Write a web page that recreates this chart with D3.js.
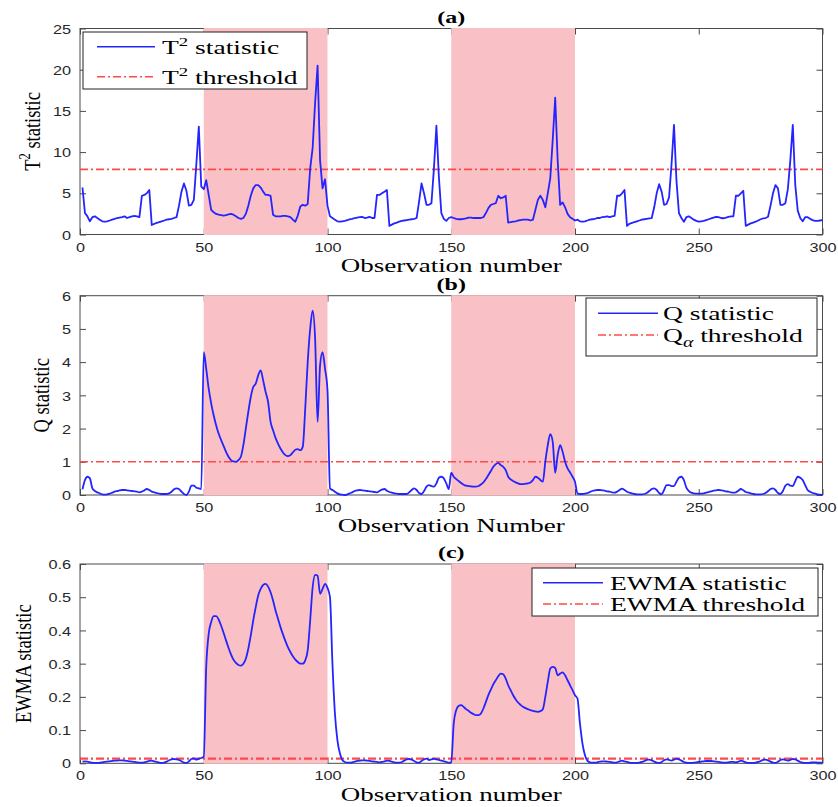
<!DOCTYPE html>
<html>
<head>
<meta charset="utf-8">
<script src="https://cdnjs.cloudflare.com/ajax/libs/d3/7.8.5/d3.min.js"></script>
<style>
  body { margin: 0; background: #fff; }
  svg { display: block; }
</style>
</head>
<body>
<div id="chart"></div>
<script>
// ---- data ----
const faultWindows = [[50, 100], [150, 200]];
const xTicks = [0, 50, 100, 150, 200, 250, 300];
const t2Ticks = [0, 5, 10, 15, 20, 25];
const qTicks = [0, 1, 2, 3, 4, 5, 6];
const ewmaTicks = [0, 0.1, 0.2, 0.3, 0.4, 0.5, 0.6];

const t2Threshold = 7.9;
const qThreshold = 1.0;
const ewmaThreshold = 0.014;

// T^2 statistic, observations 1..300
const t2Values = [
  5.7, 2.6, 2.2, 1.6, 2.1, 2.2, 2.0, 1.8, 1.6, 1.55,
  1.6, 1.7, 1.8, 1.9, 2.0, 2.05, 2.1, 2.2, 2.0, 2.1,
  2.2, 2.25, 2.2, 2.1, 4.7, 4.8, 5.0, 5.4, 1.15, 1.3,
  1.4, 1.5, 1.6, 1.7, 1.8, 1.85, 1.9, 2.0, 2.1, 3.5,
  5.2, 6.2, 5.3, 3.5, 3.6, 4.2, 8.5, 13.1, 5.8, 5.5,
  6.6, 4.8, 3.0, 2.7, 2.5, 2.4, 2.35, 2.3, 2.35, 2.45,
  2.5, 2.4, 2.2, 2.0, 1.9, 2.0, 2.5, 3.5, 4.7, 5.6,
  6.0, 6.0, 5.7, 5.2, 4.8, 4.8, 4.7, 2.4, 2.2, 2.2,
  2.2, 2.25, 2.25, 2.2, 2.1, 1.8, 1.55, 2.3, 3.4, 3.6,
  3.5, 3.7, 8.0, 10.5, 16.0, 20.5, 9.0, 5.6, 6.7, 3.5,
  2.2, 2.0, 1.8, 1.6, 1.55, 1.6, 1.65, 1.75, 1.85, 1.9,
  2.0, 2.05, 2.1, 2.15, 2.0, 2.05, 2.15, 2.0, 2.0, 4.8,
  4.8, 5.0, 5.2, 5.4, 1.05, 1.2, 1.35, 1.45, 1.55, 1.65,
  1.7, 1.75, 1.8, 1.85, 1.9, 2.0, 4.0, 6.2, 5.0, 3.6,
  3.6, 3.8, 8.0, 13.2, 7.0, 2.6, 1.9, 1.65, 2.0, 2.1,
  2.0, 1.9, 1.85, 1.85, 1.9, 1.95, 2.05, 2.05, 2.0, 2.0,
  2.0, 2.0, 2.1, 2.6, 3.2, 3.6, 3.7, 3.8, 4.7, 4.4,
  4.5, 4.7, 1.45, 1.5, 1.55, 1.6, 1.7, 1.75, 1.8, 1.8,
  1.8, 1.7, 1.8, 3.0, 4.2, 4.7, 4.2, 3.3, 5.0, 6.8,
  11.5, 16.6, 9.0, 3.6, 3.9, 3.3, 2.5, 2.1, 1.9, 1.7,
  1.8, 1.6, 1.55, 1.6, 1.7, 1.8, 1.85, 1.9, 2.0, 2.0,
  2.1, 2.15, 2.2, 2.1, 2.2, 2.25, 4.7, 4.7, 5.0, 5.4,
  1.05, 1.3, 1.4, 1.5, 1.6, 1.7, 1.8, 1.85, 1.9, 1.95,
  2.0, 3.3, 5.0, 6.1, 5.2, 3.6, 3.7, 4.5, 8.5, 13.3,
  6.5, 2.6, 2.0, 1.55, 2.1, 2.2, 2.0, 1.8, 1.65, 1.55,
  1.6, 1.65, 1.75, 1.85, 1.95, 2.05, 2.15, 2.1, 2.0, 1.97,
  2.05, 2.15, 2.2, 2.2, 4.7, 4.7, 5.0, 5.3, 1.05, 1.2,
  1.35, 1.45, 1.55, 1.7, 1.85, 1.95, 2.0, 2.15, 3.5, 5.0,
  6.0, 5.6, 3.6, 3.6, 3.8, 5.5, 9.0, 13.3, 6.0, 2.9,
  2.0, 1.6, 2.1, 2.1, 1.9, 1.75, 1.65, 1.65, 1.7, 1.75
];

// Q statistic, observations 1..300
const qValues = [
  0.17, 0.45, 0.55, 0.5, 0.2, 0.12, 0.08, 0.05, 0.02, 0.01,
  0.02, 0.04, 0.07, 0.1, 0.12, 0.14, 0.15, 0.15, 0.14, 0.13,
  0.12, 0.11, 0.1, 0.08, 0.1, 0.14, 0.18, 0.15, 0.1, 0.08,
  0.06, 0.04, 0.03, 0.03, 0.03, 0.05, 0.1, 0.17, 0.2, 0.18,
  0.1, 0.03, 0.0, 0.1, 0.28, 0.28, 0.22, 0.2, 0.18, 4.3,
  3.8, 3.2, 2.76, 2.4, 2.1, 1.85, 1.66, 1.48, 1.3, 1.15,
  1.05, 1.01, 1.0, 1.05, 1.15, 1.5, 2.0, 2.5, 2.95, 3.25,
  3.35, 3.6, 3.75, 3.45, 3.1, 2.8, 2.2, 1.95, 1.72, 1.55,
  1.4, 1.28, 1.2, 1.17, 1.2, 1.28, 1.36, 1.38, 1.35, 1.45,
  2.6, 4.0, 5.0, 5.55, 4.7, 2.2, 3.9, 4.3, 3.8, 3.15,
  0.2, 0.15, 0.1, 0.05, 0.02, 0.01, 0.0, 0.02, 0.05, 0.08,
  0.12, 0.14, 0.15, 0.14, 0.13, 0.12, 0.11, 0.1, 0.09, 0.08,
  0.12, 0.16, 0.18, 0.13, 0.09, 0.07, 0.05, 0.04, 0.03, 0.03,
  0.03, 0.03, 0.08, 0.15, 0.2, 0.15, 0.06, 0.03, 0.12, 0.25,
  0.3, 0.27, 0.25, 0.35, 0.52, 0.55, 0.5, 0.35, 0.18, 0.67,
  0.55, 0.48, 0.42, 0.36, 0.31, 0.28, 0.27, 0.26, 0.25, 0.25,
  0.27, 0.32, 0.38, 0.48, 0.6, 0.72, 0.85, 0.93, 0.97, 0.9,
  0.85, 0.75, 0.55, 0.47, 0.42, 0.38, 0.35, 0.33, 0.33, 0.34,
  0.35, 0.38, 0.45, 0.55, 0.52, 0.45, 0.4, 1.0, 1.5, 1.83,
  1.6, 0.67, 1.2, 1.5, 1.3, 1.0, 0.8, 0.68, 0.55, 0.4,
  0.05, 0.03, 0.03, 0.04, 0.06, 0.09, 0.12, 0.14, 0.15, 0.15,
  0.14, 0.13, 0.11, 0.1, 0.08, 0.07, 0.1, 0.15, 0.19, 0.15,
  0.1, 0.07, 0.05, 0.03, 0.02, 0.02, 0.02, 0.03, 0.06, 0.12,
  0.18, 0.2, 0.15, 0.06, 0.02, 0.15, 0.3, 0.3, 0.27, 0.27,
  0.4, 0.52, 0.55, 0.45, 0.22, 0.12, 0.07, 0.05, 0.04, 0.04,
  0.04, 0.05, 0.07, 0.09, 0.11, 0.13, 0.14, 0.15, 0.14, 0.13,
  0.11, 0.1, 0.08, 0.07, 0.08, 0.13, 0.18, 0.14, 0.09, 0.07,
  0.05, 0.03, 0.02, 0.02, 0.02, 0.03, 0.06, 0.12, 0.18, 0.2,
  0.15, 0.06, 0.03, 0.12, 0.28, 0.33, 0.28, 0.27, 0.42, 0.55,
  0.52, 0.45, 0.3, 0.15, 0.1, 0.06, 0.04, 0.02, 0.01, 0.0
];

// EWMA statistic, observations 1..300
const ewmaValues = [
  0.005, 0.006, 0.005, 0.003, 0.002, 0.001, 0.001, 0.002, 0.003, 0.004,
  0.005, 0.006, 0.007, 0.008, 0.008, 0.009, 0.009, 0.008, 0.007, 0.006,
  0.005, 0.004, 0.003, 0.002, 0.002, 0.003, 0.005, 0.007, 0.008, 0.006,
  0.004, 0.002, 0.001, 0.002, 0.005, 0.009, 0.012, 0.013, 0.012, 0.01,
  0.006, 0.002, 0.001, 0.006, 0.013, 0.015, 0.011, 0.014, 0.016, 0.02,
  0.29, 0.39, 0.425, 0.443, 0.443, 0.433, 0.415, 0.393, 0.37, 0.348,
  0.328, 0.312, 0.302, 0.296, 0.294, 0.3, 0.315, 0.345, 0.385, 0.43,
  0.47, 0.505, 0.525, 0.537, 0.54, 0.532, 0.515, 0.49, 0.46, 0.435,
  0.41, 0.388, 0.368, 0.35, 0.335, 0.322, 0.312, 0.305, 0.3, 0.3,
  0.31, 0.34, 0.43, 0.53, 0.567, 0.565, 0.51, 0.525, 0.54, 0.528,
  0.5, 0.3, 0.15, 0.07, 0.03, 0.01, 0.004, 0.002, 0.002, 0.003,
  0.005, 0.007, 0.008, 0.009, 0.009, 0.008, 0.007, 0.006, 0.005, 0.004,
  0.003, 0.004, 0.006, 0.008, 0.007, 0.005, 0.003, 0.002, 0.002, 0.004,
  0.008, 0.012, 0.013, 0.011, 0.007, 0.003, 0.002, 0.007, 0.012, 0.014,
  0.01, 0.012, 0.014, 0.012, 0.01, 0.008, 0.006, 0.004, 0.002, 0.003,
  0.12, 0.16, 0.173, 0.175, 0.17, 0.163, 0.158, 0.152, 0.148, 0.145,
  0.145, 0.15, 0.165, 0.185, 0.205, 0.222, 0.238, 0.25, 0.262, 0.27,
  0.268, 0.255, 0.235, 0.22, 0.205, 0.193, 0.183, 0.176, 0.17, 0.166,
  0.163, 0.16, 0.158, 0.156, 0.155, 0.157, 0.163, 0.2, 0.245, 0.285,
  0.29, 0.287, 0.265, 0.27, 0.274, 0.265, 0.25, 0.235, 0.22, 0.205,
  0.195, 0.12, 0.06, 0.025, 0.008, 0.003, 0.002, 0.002, 0.003, 0.005,
  0.006, 0.006, 0.005, 0.004, 0.003, 0.002, 0.003, 0.006, 0.008, 0.006,
  0.004, 0.002, 0.001, 0.001, 0.001, 0.002, 0.004, 0.007, 0.01, 0.011,
  0.009, 0.005, 0.002, 0.001, 0.004, 0.009, 0.012, 0.01, 0.008, 0.011,
  0.014, 0.012, 0.008, 0.004, 0.002, 0.001, 0.001, 0.002, 0.003, 0.004,
  0.005, 0.006, 0.007, 0.007, 0.007, 0.006, 0.005, 0.004, 0.003, 0.002,
  0.002, 0.003, 0.004, 0.004, 0.003, 0.005, 0.008, 0.006, 0.003, 0.001,
  0.001, 0.001, 0.002, 0.004, 0.007, 0.01, 0.011, 0.009, 0.005, 0.002,
  0.001, 0.005, 0.01, 0.012, 0.01, 0.008, 0.01, 0.013, 0.012, 0.008,
  0.004, 0.002, 0.001, 0.001, 0.002, 0.003, 0.003, 0.002, 0.002, 0.002
];

// ---- layout / style ----
const svgWidth = 838, svgHeight = 807;
const plotLeft = 80, plotRight = 822.5;
const serif = "'Liberation Serif', 'Times New Roman', serif";
const sans = "'Liberation Sans', Arial, sans-serif";
const axisColor = "#4a4a4a";
const lineBlue = "#2424ff";
const threshRed = "#ff4a4a";
const shadePink = "#f9c1c5";

const panels = [
  {
    values: t2Values, ticks: t2Ticks, domain: [0, 25], threshold: t2Threshold,
    top: 28.5, bottom: 234.5, title: "(a)",
    xLabel: "Observation number", xLabelY: 271.5,
    yLabel: [{ t: "T" }, { t: "2", sup: true }, { t: " statistic" }], yLabelX: 40,
    curve: d3.curveLinear, threshWidth: 1.8,
    legend: {
      x: 83, y: 32, w: 224, h: 57, lineX: 97, lineW: 58, textX: 162, rows: [46.7, 76.7],
      labels: [
        [{ t: "T" }, { t: "2", sup: true }, { t: " statistic" }],
        [{ t: "T" }, { t: "2", sup: true }, { t: " threshold" }]
      ]
    }
  },
  {
    values: qValues, ticks: qTicks, domain: [0, 6], threshold: qThreshold,
    top: 295.7, bottom: 495, title: "(b)",
    xLabel: "Observation Number", xLabelY: 532,
    yLabel: [{ t: "Q statistic" }], yLabelX: 49,
    curve: d3.curveMonotoneX, threshWidth: 1.5,
    legend: {
      x: 586, y: 298, w: 231, h: 58, lineX: 598, lineW: 60, textX: 663, rows: [313.3, 335],
      labels: [
        [{ t: "Q statistic" }],
        [{ t: "Q" }, { t: "\u03b1", sub: true }, { t: " threshold" }]
      ]
    }
  },
  {
    values: ewmaValues, ticks: ewmaTicks, domain: [0, 0.6], threshold: ewmaThreshold,
    top: 564, bottom: 763.3, title: "(c)",
    xLabel: "Observation number", xLabelY: 800.5,
    yLabel: [{ t: "EWMA statistic" }], yLabelX: 31,
    curve: d3.curveMonotoneX, threshWidth: 2.4,
    legend: {
      x: 532, y: 568, w: 286, h: 48, lineX: 543, lineW: 60, textX: 610, rows: [582.7, 604],
      labels: [
        [{ t: "EWMA statistic" }],
        [{ t: "EWMA threshold" }]
      ]
    }
  }
];

// text with super/subscript parts
function richText(parent, parts, size) {
  const text = parent.append("text")
    .attr("font-family", serif)
    .attr("font-size", size)
    .attr("fill", "#000");
  let shift = 0;
  parts.forEach(p => {
    let target = 0;
    const ts = text.append("tspan").text(p.t);
    if (p.sup) { target = -size * 0.42; ts.attr("font-size", size * 0.68); }
    if (p.sub) { target = size * 0.28; ts.attr("font-size", size * 0.72).attr("font-style", "italic"); }
    if (target !== shift) ts.attr("dy", target - shift);
    shift = target;
  });
  return text;
}

const svg = d3.select("#chart").append("svg")
  .attr("width", svgWidth)
  .attr("height", svgHeight);

const x = d3.scaleLinear().domain([0, 300]).range([plotLeft, plotRight]);
const midX = (plotLeft + plotRight) / 2;

panels.forEach(p => {
  const y = d3.scaleLinear().domain(p.domain).range([p.bottom, p.top]);
  const g = svg.append("g");

  // frame
  g.append("rect")
    .attr("x", plotLeft).attr("y", p.top)
    .attr("width", plotRight - plotLeft).attr("height", p.bottom - p.top)
    .attr("fill", "#fff").attr("stroke", axisColor).attr("stroke-width", 1);

  const tickFmt = d => (d === 0 ? "0" : d3.format(p.domain[1] < 1 ? ".1f" : "d")(d));

  // bottom axis with labels
  const xAxis = g.append("g")
    .attr("transform", `translate(0,${p.bottom})`)
    .call(d3.axisBottom(x).tickValues(xTicks).tickSizeInner(-6).tickSizeOuter(0).tickFormat(d3.format("d")));
  xAxis.selectAll(".tick text")
    .attr("y", 0).attr("dy", 0)
    .attr("transform", "translate(0,17) scale(1.25,1)");

  const yAxis = g.append("g")
    .attr("transform", `translate(${plotLeft},0)`)
    .call(d3.axisLeft(y).tickValues(p.ticks).tickSizeInner(-6).tickSizeOuter(0).tickFormat(tickFmt));
  yAxis.selectAll(".tick text")
    .attr("x", 0).attr("dy", "0.36em")
    .attr("transform", "translate(-9,0) scale(1.25,1)");

  // top and right ticks, no labels
  g.append("g").attr("transform", `translate(0,${p.top})`)
    .call(d3.axisTop(x).tickValues(xTicks).tickSizeInner(-6).tickSizeOuter(0).tickFormat(""));
  g.append("g").attr("transform", `translate(${plotRight},0)`)
    .call(d3.axisRight(y).tickValues(p.ticks).tickSizeInner(-6).tickSizeOuter(0).tickFormat(""));

  g.selectAll(".domain").remove();
  g.selectAll(".tick line").attr("stroke", axisColor);
  g.selectAll(".tick text")
    .attr("font-family", sans).attr("font-size", 13).attr("fill", "#262626");

  // fault windows
  g.selectAll(".shade")
    .data(faultWindows)
    .join("rect")
    .attr("class", "shade")
    .attr("x", d => x(d[0]))
    .attr("y", p.top - 0.5)
    .attr("width", d => x(d[1]) - x(d[0]))
    .attr("height", p.bottom - p.top + 1)
    .attr("fill", shadePink);

  // threshold
  g.append("line")
    .attr("x1", plotLeft).attr("x2", plotRight)
    .attr("y1", y(p.threshold)).attr("y2", y(p.threshold))
    .attr("stroke", threshRed).attr("stroke-width", p.threshWidth)
    .attr("stroke-dasharray", "8,3,2,3");

  // statistic
  const line = d3.line()
    .x((d, i) => x(i + 1))
    .y(d => y(d))
    .curve(p.curve);
  g.append("path")
    .datum(p.values)
    .attr("d", line)
    .attr("fill", "none")
    .attr("stroke", lineBlue)
    .attr("stroke-width", 1.8)
    .attr("stroke-linejoin", "round");

  // legend
  const L = p.legend;
  const lg = g.append("g");
  lg.append("rect")
    .attr("x", L.x).attr("y", L.y).attr("width", L.w).attr("height", L.h)
    .attr("fill", "#fff").attr("stroke", "#222").attr("stroke-width", 1);
  L.rows.forEach((ry, i) => {
    const ln = lg.append("line")
      .attr("x1", L.lineX).attr("x2", L.lineX + L.lineW)
      .attr("y1", ry).attr("y2", ry)
      .attr("stroke", i === 0 ? lineBlue : threshRed)
      .attr("stroke-width", i === 0 ? 1.5 : 1.4);
    if (i === 1) ln.attr("stroke-dasharray", "8,3,2,3");
    richText(lg, L.labels[i], 19)
      .attr("transform", `translate(${L.textX},${ry + 7}) scale(1.45,1)`);
  });

  // titles and labels
  g.append("text")
    .attr("transform", `translate(${midX},${p.top - 5.7}) scale(1.5,1)`)
    .attr("text-anchor", "middle")
    .attr("font-family", serif).attr("font-weight", "bold").attr("font-size", 16)
    .text(p.title);

  g.append("text")
    .attr("transform", `translate(${midX},${p.xLabelY}) scale(1.42,1)`)
    .attr("text-anchor", "middle")
    .attr("font-family", serif).attr("font-size", 19)
    .text(p.xLabel);

  richText(g, p.yLabel, 18.5)
    .attr("text-anchor", "middle")
    .attr("transform", `translate(${p.yLabelX},${(p.top + p.bottom) / 2}) rotate(-90) scale(1,1.3)`);
});
</script>
</body>
</html>
